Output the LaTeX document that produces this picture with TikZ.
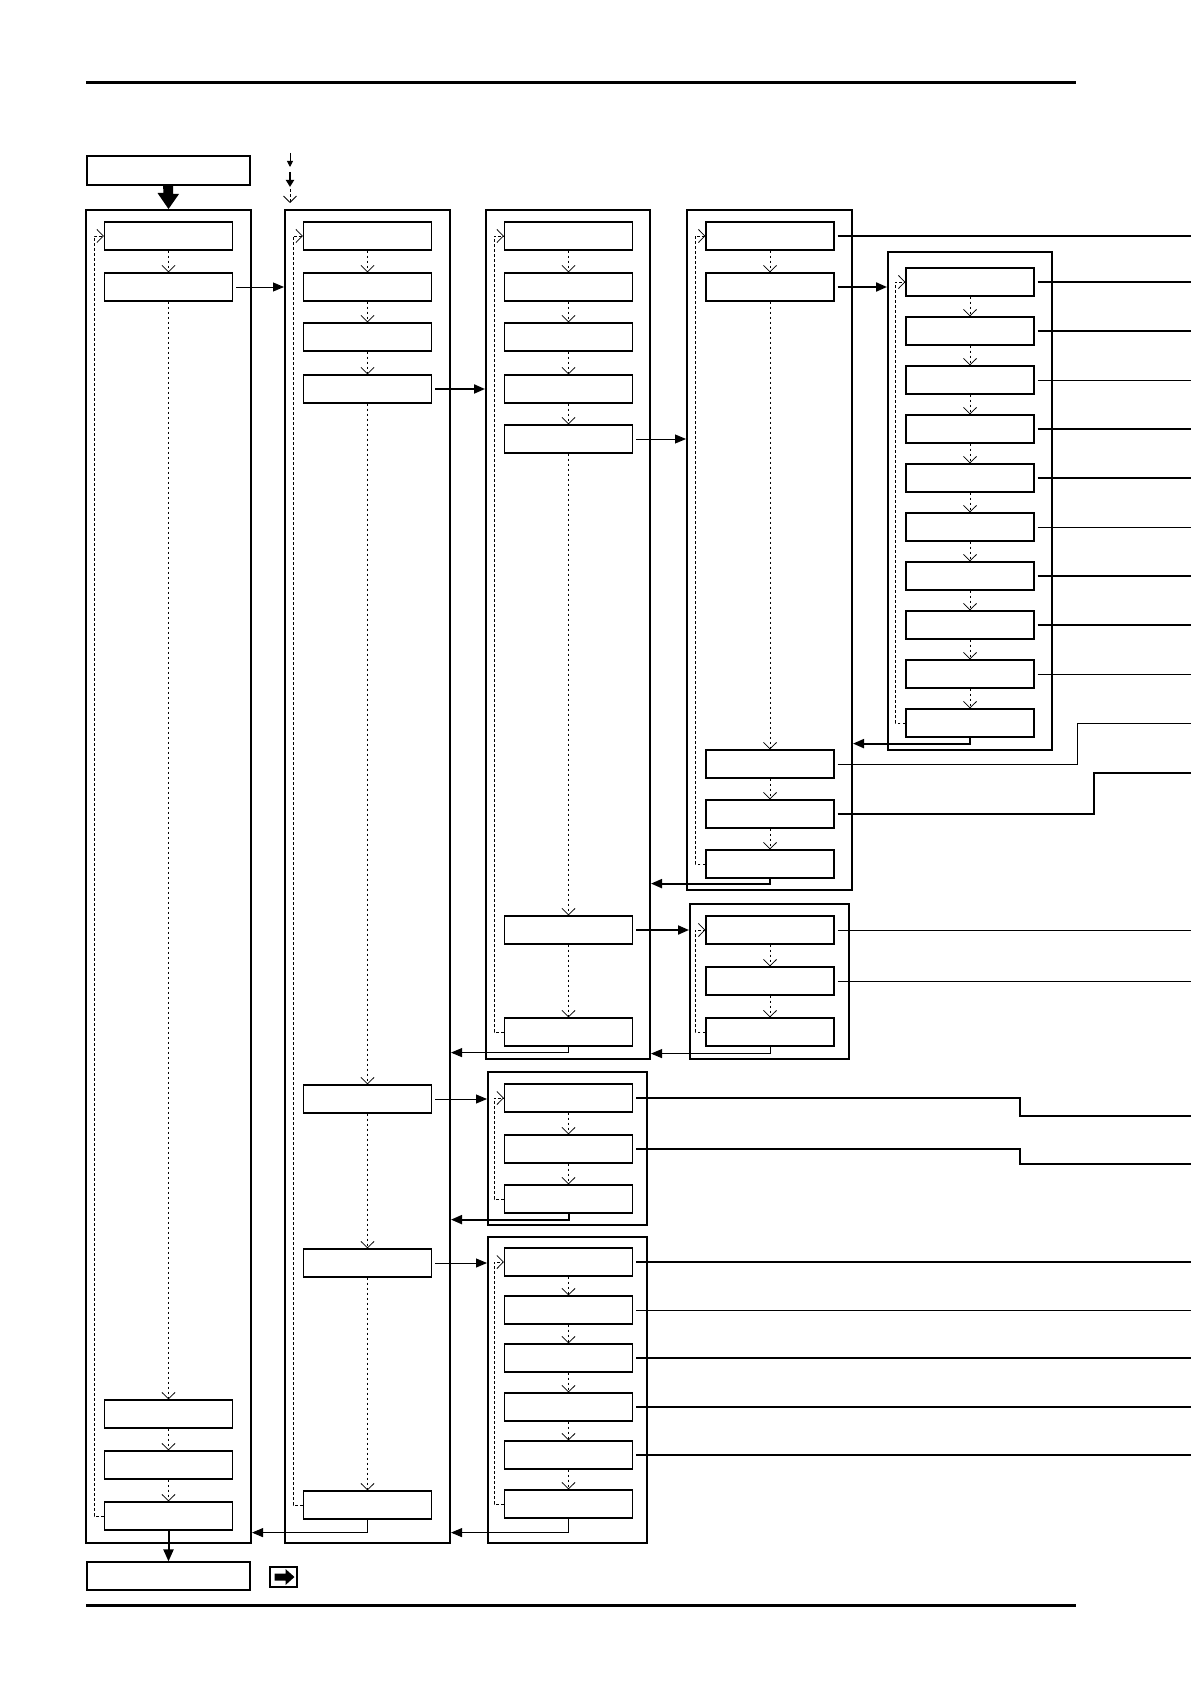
\documentclass[tikz,border=0pt]{standalone}
\usetikzlibrary{arrows.meta, fit}

\tikzset{
  blk/.style={draw, line width=0.6pt, minimum width=64pt, minimum height=14pt, inner sep=0pt},
  frame/.style={draw, line width=1pt, inner sep=0pt},
  seq/.style={line width=0.4pt, dash pattern=on 1.4pt off 1.1pt, -{Straight Barb[length=3.2pt, width=6.5pt]}},
  tap/.style={line width=0.45pt, shorten <=1.5pt},
  bus/.style={line width=1pt, shorten <=1.5pt},
  feed/.style={-{Triangle[length=5.5pt, width=4.5pt]}},
  gap/.style={shorten <=1.5pt},
}

\begin{document}
\begin{tikzpicture}[x=0.5pt, y=-0.5pt]
  \useasboundingbox (0,0) rectangle (1191,1684);
  \coordinate (edge) at (1191,0);
  \draw[line width=1.5pt] (86,83) -- (1076,83);
  \draw[line width=1.5pt] (86,1605) -- (1076,1605);

  % legend
  \draw[line width=0.45pt, -{Triangle[length=3pt, width=3pt]}] (290,153) -- (290,167);
  \draw[line width=1.1pt, -{Triangle[length=3.5pt, width=4pt]}] (290,172) -- (290,187);
  \draw[seq] (290,189) -- (290,203);

  % frames
  \node[frame, fit={(86,210) (251,1543)}] (fa) {};
  \node[frame, fit={(285,210) (450,1543)}] (fb) {};
  \node[frame, fit={(486,210) (650,1059)}] (fc) {};
  \node[frame, fit={(687,210) (852,890)}] (fd) {};
  \node[frame, fit={(888,252) (1052,750)}] (fe) {};
  \node[frame, fit={(690,904) (849,1059)}] (ff) {};
  \node[frame, fit={(488,1072) (647,1225)}] (fg) {};
  \node[frame, fit={(488,1237) (647,1543)}] (fh) {};

  % boxes
  \node[blk, minimum width=81.5pt, minimum height=14.5pt] (top) at (168.5,170.5) {};
  \node[blk, minimum width=81.5pt] (bot) at (168.5,1576) {};
  \foreach \n/\y in {1/236,2/287,3/1414,4/1465,5/1516} \node[blk] (a\n) at (168.5,\y) {};
  \foreach \n/\y in {1/236,2/287,3/337,4/389,5/1099,6/1263,7/1505} \node[blk] (b\n) at (367.5,\y) {};
  \foreach \n/\y in {1/236,2/287,3/337,4/389,5/439,6/930,7/1032} \node[blk] (c\n) at (568.5,\y) {};
  \foreach \n/\y in {1/236,2/287,3/764,4/814,5/864} \node[blk] (d\n) at (770,\y) {};
  \foreach \n in {1,...,10} \node[blk] (e\n) at (970,233+49*\n) {};
  \foreach \n/\y in {1/930,2/981,3/1032} \node[blk] (f\n) at (770,\y) {};
  \foreach \n/\y in {1/1098,2/1149,3/1199} \node[blk] (g\n) at (568.5,\y) {};
  \foreach \n/\y in {1/1262,2/1310,3/1358,4/1407,5/1455,6/1504} \node[blk] (h\n) at (568.5,\y) {};

  % sequence and loop back
  \foreach \cl/\nb in {a/5,b/7,c/7,d/5,e/10,f/3,g/3,h/6} {
    \foreach \i in {2,...,\nb} {
      \pgfmathtruncatemacro\pv{\i-1}
      \draw[seq] (\cl\pv.south) -- (\cl\i.north);
    }
    \draw[seq] (\cl\nb.west) -- ++(-10,0) |- (\cl1.west);
  }

  % start and end
  \fill (163,185) -- ++(10,0) -- ++(0,9) -- ++(6,0) -- (fa.north) -- ++(-11,-16) -- ++(6,0) -- cycle;
  \draw[line width=1pt, -{Triangle[length=6pt, width=5pt]}] (a5.south) -- (a5.south |- bot.north);
  \node[draw, line width=0.7pt, minimum width=13.5pt, minimum height=10pt, inner sep=0pt] (go) at (283.5,1577) {};
  \fill (go.center) ++(-9,-3.5) -- ++(11,0) -- ++(0,-4.5) -- ++(9,8) -- ++(-9,8) -- ++(0,-4.5) -- ++(-11,0) -- cycle;

  % calls into the next frame
  \foreach \s/\t in {a2/fb, c5/fd, b5/fg, b6/fh}
    \draw[feed, gap, line width=0.45pt] (\s.east) -- (\s.east -| \t.west);
  \foreach \s/\t in {b4/fc, d2/fe, c6/ff}
    \draw[feed, gap, line width=1pt] (\s.east) -- (\s.east -| \t.west);

  % returns
  \foreach \s/\d/\t in {b7/13/fa, c7/6/fb, f3/7/fc, h6/14/fb}
    \draw[feed, line width=0.45pt] (\s.south) -- ++(0,\d) coordinate (r) -- (r -| \t.east);
  \foreach \s/\d/\t in {e10/6/fd, d5/5/fc, g3/6/fb}
    \draw[feed, line width=1pt] (\s.south) -- ++(0,\d) coordinate (r) -- (r -| \t.east);

  % outputs
  \foreach \b in {d1,e1,e2,e4,e5,e7,e8,h1,h3,h4,h5} \draw[bus] (\b.east) -- (\b.east -| edge);
  \foreach \b in {e3,e6,e9,f1,f2,h2} \draw[tap] (\b.east) -- (\b.east -| edge);
  \coordinate (k1) at (1077,723);
  \coordinate (k2) at (1094,773);
  \coordinate (k3) at (1020,1116);
  \coordinate (k4) at (1020,1164);
  \draw[tap] (d3.east) -| (k1) -- (k1 -| edge);
  \draw[bus] (d4.east) -| (k2) -- (k2 -| edge);
  \draw[bus] (g1.east) -| (k3) -- (k3 -| edge);
  \draw[bus] (g2.east) -| (k4) -- (k4 -| edge);
\end{tikzpicture}
\end{document}
